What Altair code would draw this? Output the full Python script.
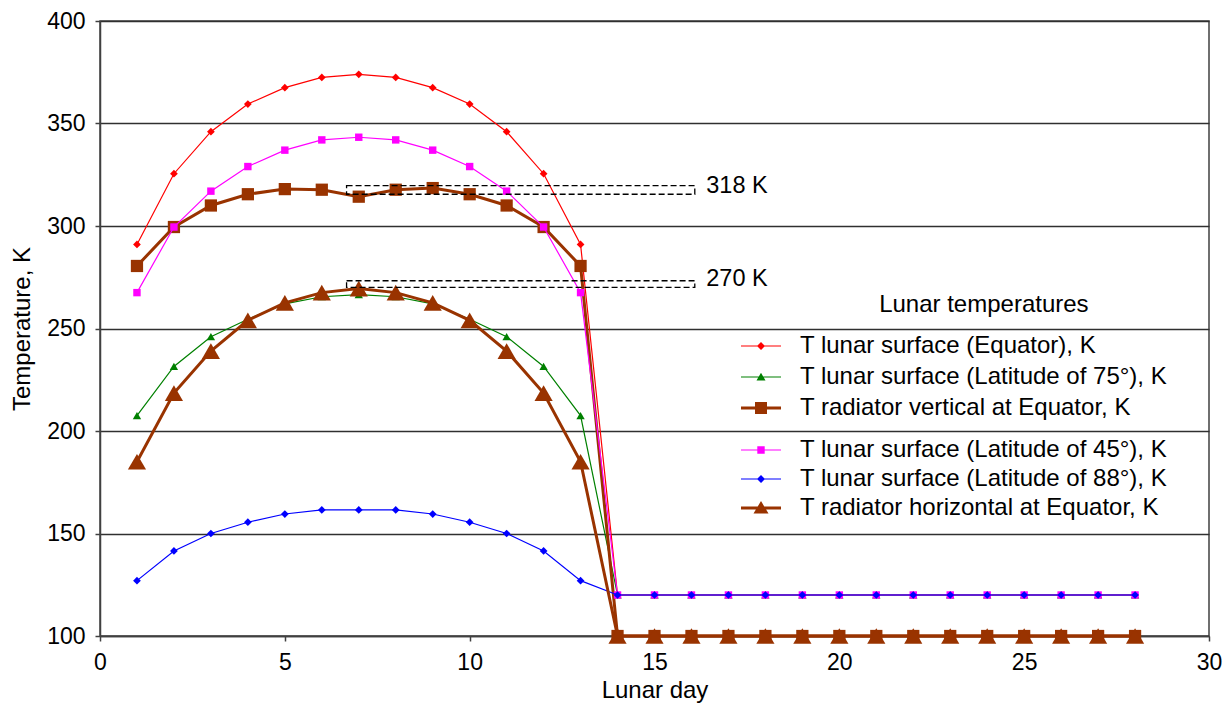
import altair as alt
import pandas as pd

days = list(range(1, 29))

t_equator = [291, 325.5, 346, 359.5, 367.5, 372.5, 374, 372.5, 367.5, 359.5, 346, 325.5, 291,
             120, 120, 120, 120, 120, 120, 120, 120, 120, 120, 120, 120, 120, 120, 120]
t_lat45 = [267.5, 299.5, 317, 329, 337, 342, 343.3, 342, 337, 329, 317, 299.5, 267.5,
           120, 120, 120, 120, 120, 120, 120, 120, 120, 120, 120, 120, 120, 120, 120]
t_lat75 = [207.5, 231.5, 246, 254.5, 262, 265.5, 266.5, 265.5, 262, 254.5, 246, 231.5, 207.5,
           120, 120, 120, 120, 120, 120, 120, 120, 120, 120, 120, 120, 120, 120, 120]
t_lat88 = [127, 141.5, 150, 155.5, 159.5, 161.5, 161.5, 161.5, 159.5, 155.5, 150, 141.5, 127,
           120, 120, 120, 120, 120, 120, 120, 120, 120, 120, 120, 120, 120, 120, 120]
t_rad_vert = [280.5, 299.5, 310, 315.5, 318, 317.7, 314.3, 317.7, 318.5, 315.5, 310, 299.5, 280.5,
              100, 100, 100, 100, 100, 100, 100, 100, 100, 100, 100, 100, 100, 100, 100]
t_rad_hor = [185, 218.5, 239, 254, 262.5, 267.5, 269.5, 267.5, 262.5, 254, 239, 218.5, 185,
             100, 100, 100, 100, 100, 100, 100, 100, 100, 100, 100, 100, 100, 100, 100]

names = [
    "T lunar surface (Equator), K",
    "T lunar surface (Latitude of 75°), K",
    "T radiator vertical at Equator, K",
    "T lunar surface (Latitude of 45°), K",
    "T lunar surface (Latitude of 88°), K",
    "T radiator horizontal at Equator, K",
]
values = [t_equator, t_lat75, t_rad_vert, t_lat45, t_lat88, t_rad_hor]
colors = ["#FF0000", "#008000", "#993300", "#FF00FF", "#0000FF", "#993300"]
line_widths = [1.2, 1.2, 3, 1.2, 1.2, 3]
marker_shapes = ["diamond", "triangle-up", "square", "square", "diamond", "triangle-up"]
marker_sizes = [60, 70, 150, 55, 60, 330]

# legend heading, placed in data coordinates above the legend entries
legend_title = ["Lunar temperatures"]
legend_title_x = [23.91]
legend_title_y = [261.5]

# annotation boxes (318 K and 270 K)
box_x0 = [6.67, 6.67]
box_x1 = [16.09, 16.09]
box_y0 = [315.5, 270.1]
box_y1 = [319.7, 273.3]
label_x = [16.4, 16.4]
label_y = [319.5, 274.0]
label_text = ["318 K", "270 K"]

rows = []
for n, vals in zip(names, values):
    for d, v in zip(days, vals):
        rows.append({"day": d, "temp": v, "series": n})
df = pd.DataFrame(rows)

FONT = "Liberation Sans"
xenc = alt.X("day:Q", scale=alt.Scale(domain=[0, 30], nice=False),
             axis=alt.Axis(values=[0, 5, 10, 15, 20, 25, 30], title="Lunar day", grid=False,
                           labelFlush=False))
yenc = alt.Y("temp:Q", scale=alt.Scale(domain=[100, 400], nice=False),
             axis=alt.Axis(values=[100, 150, 200, 250, 300, 350, 400], title="Temperature, K",
                           grid=True, labelFlush=False))

layers = []
for n, c, w, s, sz in zip(names, colors, line_widths, marker_shapes, marker_sizes):
    base = alt.Chart(df).transform_filter(alt.datum.series == n)
    layers.append(base.mark_line(color=c, strokeWidth=w).encode(x=xenc, y=yenc))
    layers.append(base.mark_point(shape=s, filled=True, size=sz, color=c, opacity=1).encode(x=xenc, y=yenc))

box_df = pd.DataFrame({"x0": box_x0, "x1": box_x1, "y0": box_y0, "y1": box_y1})
boxes = alt.Chart(box_df).mark_rect(fill="transparent", stroke="#000000", strokeWidth=1.3,
                                     strokeDash=[6, 3]).encode(
    x="x0:Q", x2="x1:Q", y="y0:Q", y2="y1:Q")
lab_df = pd.DataFrame({"x": label_x, "y": label_y, "t": label_text})
labels = alt.Chart(lab_df).mark_text(align="left", baseline="middle", fontSize=23.5,
                                      font=FONT, color="#000000").encode(
    x="x:Q", y="y:Q", text="t:N")
head_df = pd.DataFrame({"x": legend_title_x, "y": legend_title_y, "t": legend_title})
heading = alt.Chart(head_df).mark_text(align="center", baseline="middle", fontSize=24,
                                        font=FONT, color="#000000").encode(
    x="x:Q", y="y:Q", text="t:N")

# legend symbols: line segment plus marker (filled paths)
thin = "M-2,-0.06L2,-0.06L2,0.06L-2,0.06Z"
thick = "M-2,-0.15L2,-0.15L2,0.15L-2,0.15Z"
diamond = "M0,-0.4L0.4,0L0,0.4L-0.4,0Z"
square_s = "M-0.37,-0.37L0.37,-0.37L0.37,0.37L-0.37,0.37Z"
square_b = "M-0.6,-0.6L0.6,-0.6L0.6,0.6L-0.6,0.6Z"
tri_s = "M0,-0.42L0.45,0.36L-0.45,0.36Z"
tri_b = "M0,-0.7L0.75,0.55L-0.75,0.55Z"
legend_paths = [thin + diamond, thin + tri_s, thick + square_b,
                thin + square_s, thin + diamond, thick + tri_b]


def legend_layer(idx, lx, ly, row_pad):
    dom = [names[i] for i in idx]
    rng_c = [colors[i] for i in idx]
    rng_s = [legend_paths[i] for i in idx]
    leg = alt.Legend(title=None, orient="none", legendX=lx, legendY=ly,
                     symbolSize=400, symbolStrokeWidth=0, labelOffset=27,
                     labelFontSize=24, labelFont=FONT,
                     rowPadding=row_pad, padding=0, labelColor="#000000", labelLimit=600)
    src = pd.DataFrame({"series": dom})
    return alt.Chart(src).transform_filter("false").mark_point(filled=True, opacity=1).encode(
        color=alt.Color("series:N", scale=alt.Scale(domain=dom, range=rng_c), legend=leg),
        shape=alt.Shape("series:N", scale=alt.Scale(domain=dom, range=rng_s), legend=leg),
    )


leg1 = legend_layer([0, 1, 2], 649, 313, 7)
leg2 = legend_layer([3, 4, 5], 649, 417, 5)

chart = alt.layer(*layers, boxes, labels, heading, leg1, leg2).resolve_scale(
    color="independent", shape="independent"
).properties(
    width=1109, height=615,
    autosize=alt.AutoSizeParams(type="none"),
    padding={"left": 92, "top": 13, "right": 14, "bottom": 69},
).configure_view(
    stroke="#404040", strokeWidth=1.5
).configure_axis(
    labelFont=FONT, titleFont=FONT, labelFontSize=23, titleFontSize=24,
    titleFontWeight="normal", labelColor="#000000", titleColor="#000000",
    domainColor="#404040", domainWidth=1.5, tickColor="#404040", tickWidth=1.5, tickSize=5,
    gridColor="#303030", gridWidth=1.3, gridOpacity=1, labelPadding=10,
).configure_axisY(titlePadding=12).configure_axisX(titlePadding=4)

chart.save("out.html", embed_options={"renderer": "svg", "actions": False})
